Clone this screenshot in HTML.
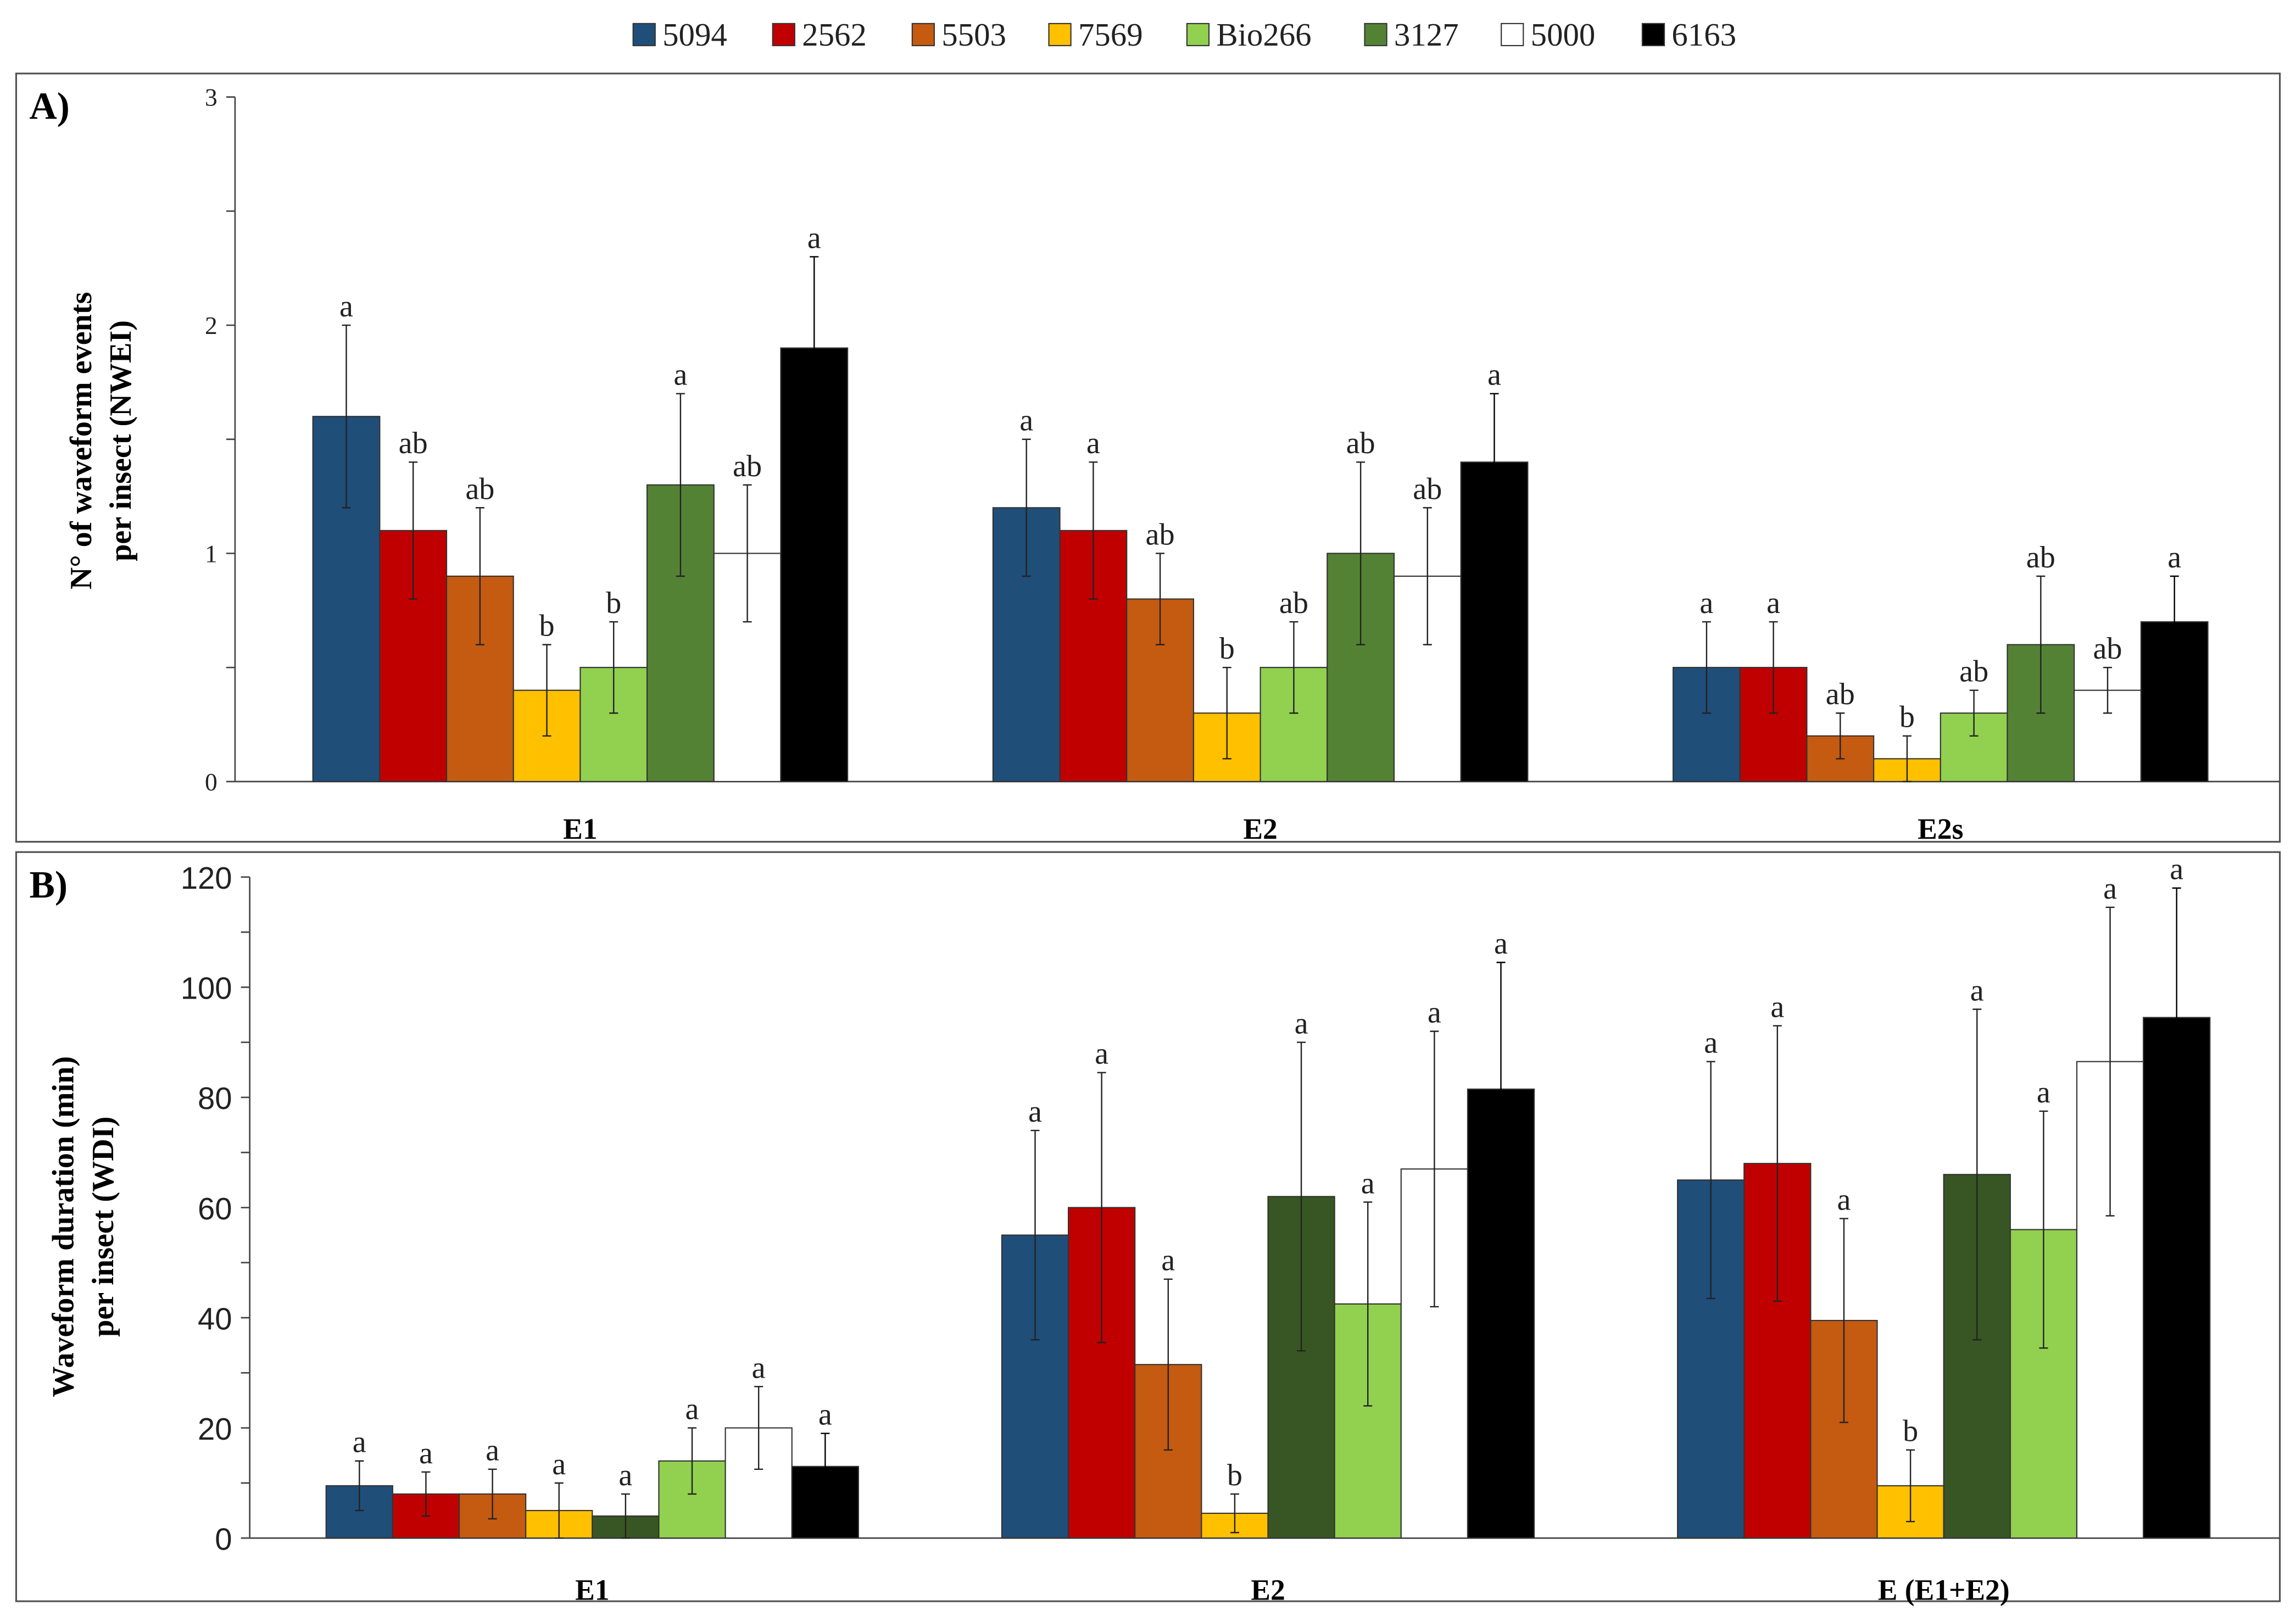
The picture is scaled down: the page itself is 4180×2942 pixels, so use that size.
<!DOCTYPE html>
<html><head><meta charset="utf-8"><style>
html,body{margin:0;padding:0;background:#fff;}
svg{display:block;}
</style></head><body>
<svg id="chart" xmlns="http://www.w3.org/2000/svg" width="4180" height="2942" viewBox="0 0 1563 1100">
<rect x="0" y="0" width="1563" height="1100" fill="#fff"/>
<g id="legend"></g>
<g id="panelA"></g>
<g id="panelB"></g>
</svg>
<script>
const seriesNames = ["5094","2562","5503","7569","Bio266","3127","5000","6163"];
const legendColors = ["#1f4e79","#c00000","#c55a11","#ffc000","#92d050","#548235","#ffffff","#000000"];

const catsA = ["E1","E2","E2s"];
const valsA = [
  [1.6,1.1,0.9,0.4,0.5,1.3,1.0,1.9],
  [1.2,1.1,0.8,0.3,0.5,1.0,0.9,1.4],
  [0.5,0.5,0.2,0.1,0.3,0.6,0.4,0.7]
];
const errA = [
  [0.4,0.3,0.3,0.2,0.2,0.4,0.3,0.4],
  [0.3,0.3,0.2,0.2,0.2,0.4,0.3,0.3],
  [0.2,0.2,0.1,0.1,0.1,0.3,0.1,0.2]
];
const lettersA = [
  ["a","ab","ab","b","b","a","ab","a"],
  ["a","a","ab","b","ab","ab","ab","a"],
  ["a","a","ab","b","ab","ab","ab","a"]
];
const colorsA = ["#1f4e79","#c00000","#c55a11","#ffc000","#92d050","#548235","#ffffff","#000000"];
const ticksA = ["0","1","2","3"];

const catsB = ["E1","E2","E (E1+E2)"];
const valsB = [
  [9.5,8,8,5,4,14,20,13],
  [55,60,31.5,4.5,62,42.5,67,81.5],
  [65,68,39.5,9.5,66,56,86.5,94.5]
];
const errB = [
  [4.5,4,4.5,5,4,6,7.5,6],
  [19,24.5,15.5,3.5,28,18.5,25,23],
  [21.5,25,18.5,6.5,30,21.5,28,23.5]
];
const lettersB = [
  ["a","a","a","a","a","a","a","a"],
  ["a","a","a","b","a","a","a","a"],
  ["a","a","a","b","a","a","a","a"]
];
const colorsB = ["#1f4e79","#c00000","#c55a11","#ffc000","#375623","#92d050","#ffffff","#000000"];
const ticksB = ["0","20","40","60","80","100","120"];

const NS="http://www.w3.org/2000/svg";
function mk(parent,tag,attrs,text){
  const e=document.createElementNS(NS,tag);
  for(const k in attrs) e.setAttribute(k,attrs[k]);
  if(text!==undefined) e.textContent=text;
  parent.appendChild(e);
  return e;
}
const SERIF='"Liberation Serif", serif';
const SANS='"Liberation Sans", sans-serif';

const lg=document.getElementById('legend');
const legX=[431,526,621,714,808,929,1022,1118];
seriesNames.forEach((n,i)=>{
  const r=mk(lg,'rect',{x:legX[i],y:16,width:15,height:15,fill:legendColors[i],stroke:'#333','stroke-width':0.8});
  
  
  const t=mk(lg,'text',{x:legX[i]+20,y:31,'font-family':SERIF,'font-size':22,fill:'#222'},n);
  
  
});

function panel(g,cfg){
  const f=mk(g,'rect',{x:cfg.frame[0],y:cfg.frame[1],width:cfg.frame[2],height:cfg.frame[3],fill:'none',stroke:'#555','stroke-width':1.2});
  
  
  const pl=mk(g,'text',{x:cfg.frame[0]+9,y:cfg.frame[1]+31,'font-family':SERIF,'font-size':26,'font-weight':'bold'},cfg.label);
  
  
  const y=v=>cfg.y0-(v/cfg.max)*(cfg.y0-cfg.yTop);
  const ax=mk(g,'line',{x1:cfg.ax,y1:cfg.yTop,x2:cfg.ax,y2:cfg.y0,stroke:'#444','stroke-width':1});
  
  
  const xa=mk(g,'line',{x1:cfg.ax,y1:cfg.y0,x2:cfg.xEnd,y2:cfg.y0,stroke:'#444','stroke-width':1});
  
  
  for(let v=0;v<=cfg.max+1e-9;v+=cfg.minor){
    mk(g,'line',{x1:cfg.ax-6,y1:y(v),x2:cfg.ax,y2:y(v),stroke:'#444','stroke-width':1});
  }
  cfg.ticks.forEach(tk=>{
    const t=mk(g,'text',{x:cfg.ax-12,y:y(parseFloat(tk))+cfg.tickDy,'text-anchor':'end','font-family':cfg.tickFont,'font-size':cfg.tickSize,fill:'#222'},tk);
    
    
  });
  const yt=mk(g,'text',{transform:`translate(${cfg.titleX},${cfg.titleY}) rotate(-90)`,'text-anchor':'middle','font-family':SERIF,'font-size':21,'font-weight':'bold'});
  
  
  mk(yt,'tspan',{x:0,dy:0},cfg.title[0]);
  mk(yt,'tspan',{x:0,dy:27},cfg.title[1]);
  cfg.cats.forEach((c,ci)=>{
    const gx=cfg.groupStart[ci];
    const bw=cfg.bw;
    cfg.vals[ci].forEach((v,si)=>{
      const x=gx+si*bw;
      const b=mk(g,'rect',{x:x,y:y(v),width:bw,height:cfg.y0-y(v),fill:cfg.colors[si],stroke:'#333','stroke-width':0.8});
      
      
      const cx=x+bw/2, e=cfg.err[ci][si];
      const lo=Math.max(0,v-e), hi=v+e;
      const el=mk(g,'path',{d:`M${cx},${y(lo)}V${y(hi)}M${cx-3},${y(hi)}H${cx+3}M${cx-3},${y(lo)}H${cx+3}`,stroke:cfg.colors[si]==='#000000'?'#000':'#222','stroke-width':0.9,fill:'none'});
      
      
      const lt=mk(g,'text',{x:cx,y:y(hi)-6,'text-anchor':'middle','font-family':SERIF,'font-size':21,fill:'#222'},cfg.letters[ci][si]);
      
      
    });
    const cl=mk(g,'text',{x:gx+4*bw,y:cfg.catY,'text-anchor':'middle','font-family':SERIF,'font-size':20,'font-weight':'bold'},c);
    
    
  });
}

panel(document.getElementById('panelA'),{
  frame:[11,50,1541,523],label:'A)',ax:160,yTop:66,y0:532,max:3,minor:0.5,xEnd:1552,
  ticks:ticksA,tickFont:SERIF,tickSize:17,tickDy:6,
  title:['N° of waveform events','per insect  (NWEI)'],titleX:62,titleY:300,
  cats:catsA,vals:valsA,err:errA,letters:lettersA,colors:colorsA,
  groupStart:[213,676,1139],bw:45.5,catY:571
});
panel(document.getElementById('panelB'),{
  frame:[11,580,1541,510],label:'B)',ax:170,yTop:597,y0:1047,max:120,minor:10,xEnd:1552,
  ticks:ticksB,tickFont:SANS,tickSize:21,tickDy:8,
  title:['Waveform duration (min)','per insect (WDI)'],titleX:50,titleY:835,
  cats:catsB,vals:valsB,err:errB,letters:lettersB,colors:colorsB,
  groupStart:[222,682,1142],bw:45.3,catY:1089
});
</script>
</body></html>
